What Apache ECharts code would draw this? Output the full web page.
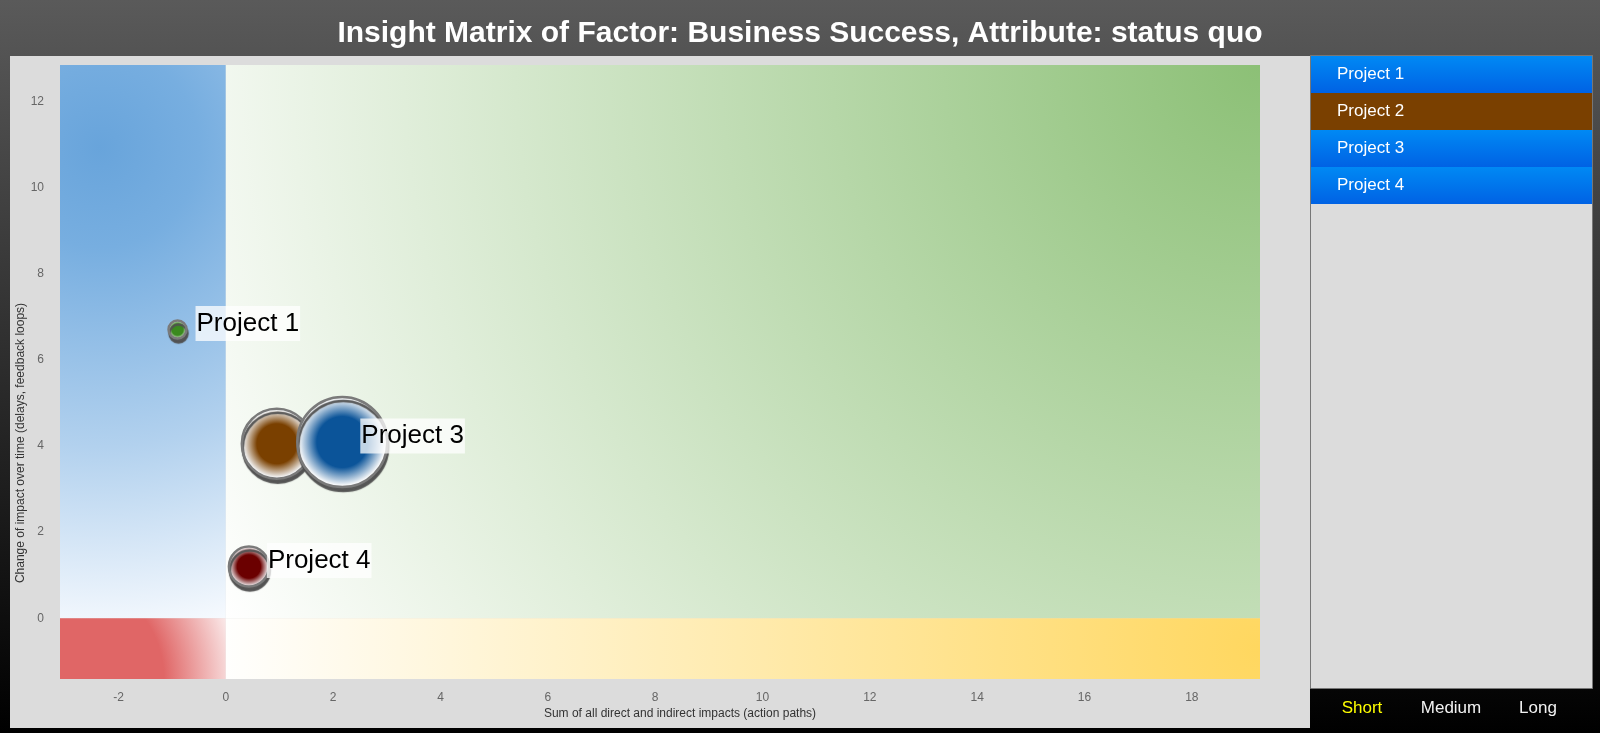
<!DOCTYPE html>
<html>
<head>
<meta charset="utf-8">
<script src="https://cdn.jsdelivr.net/npm/echarts@6/dist/echarts.min.js"></script>
<style>
  html, body { margin: 0; padding: 0; width: 1600px; height: 733px; overflow: hidden;
    background: linear-gradient(to bottom, #5a5a5a 0%, #3a3a3a 35%, #000000 100%); }
  #chart { width: 1600px; height: 733px; }
</style>
</head>
<body>
<div id="chart"></div>
<script>
// ---- data ----
const titleText = 'Insight Matrix of Factor: Business Success, Attribute: status quo';
const projects = ['Project 1', 'Project 2', 'Project 3', 'Project 4'];
const sumImpacts = [-0.90, 0.95, 2.17, 0.43];       // x: sum of all direct and indirect impacts
const changeOverTime = [6.70, 4.05, 4.09, 1.20];    // y: change of impact over time
const bubbleSize = [18, 70, 90, 40];                // bubble diameter
const projectColors = ['#3b8a1e', '#7a4000', '#0b5499', '#6b0000'];
const showLabel = [true, false, true, true];
const selectedProject = 'Project 2';
const horizons = ['Short', 'Medium', 'Long'];
const activeHorizon = 'Short';
const xName = 'Sum of all direct and indirect impacts (action paths)';
const yName = 'Change of impact over time (delays, feedback loops)';
const xRange = [-3.09, 19.27];
const yRange = [-1.41, 12.84];

const FONT = 'Liberation Sans, Arial, sans-serif';

const chart = echarts.init(document.getElementById('chart'), null, { renderer: 'canvas' });

const bubbleData = projects.map((name, i) => ({
  name: name,
  value: [sumImpacts[i], changeOverTime[i], bubbleSize[i]],
  itemStyle: {
    color: {
      type: 'radial', x: 0.5, y: 0.5, r: 0.5,
      colorStops: [
        { offset: 0, color: projectColors[i] },
        { offset: 0.55, color: projectColors[i] },
        { offset: 0.93, color: '#f4f6f8' },
        { offset: 1, color: '#f4f6f8' }
      ]
    }
  },
  label: { show: showLabel[i] }
}));

// legend panel graphics
const legendItems = [];
projects.forEach((name, i) => {
  const sel = name === selectedProject;
  legendItems.push({
    type: 'rect', z: 5,
    shape: { x: 1311, y: 56 + i * 37, width: 281, height: 37 },
    style: {
      fill: sel ? projectColors[i] : {
        type: 'linear', x: 0, y: 0, x2: 0, y2: 1,
        colorStops: [{ offset: 0, color: '#0089f4' }, { offset: 1, color: '#0062e4' }]
      }
    }
  });
  legendItems.push({
    type: 'text', z: 6,
    style: { x: 1337, y: 56 + i * 37 + 18.5, text: name, fill: '#ffffff',
      font: '17px ' + FONT, textVerticalAlign: 'middle', textAlign: 'left' }
  });
});
const horizonX = [1362, 1451, 1538];
horizons.forEach((h, i) => {
  legendItems.push({
    type: 'text', z: 6,
    style: { x: horizonX[i], y: 708, text: h, fill: h === activeHorizon ? '#ffff00' : '#f2f2f2',
      font: '17px ' + FONT, textAlign: 'center', textVerticalAlign: 'middle' }
  });
});

const option = {
  backgroundColor: 'transparent',
  animation: false,
  title: {
    text: titleText, left: 'center', top: 14,
    textStyle: { color: '#ffffff', fontSize: 30, fontWeight: 'bold', fontFamily: FONT }
  },
  graphic: [
    { type: 'rect', z: -10, shape: { x: 10, y: 56, width: 1300, height: 672 }, style: { fill: '#dcdcdc' } },
    { type: 'rect', z: -10, shape: { x: 1310.5, y: 55.5, width: 282, height: 633 },
      style: { fill: '#dcdcdc', stroke: '#777777', lineWidth: 1 } },
    { type: 'text', z: 5, x: 21, y: 443, rotation: Math.PI / 2,
      style: { x: 0, y: 0, text: yName, fill: '#333333', font: '12px ' + FONT,
        textAlign: 'center', textVerticalAlign: 'middle' } },
    { type: 'text', z: 5, style: { x: 680, y: 714, text: xName, fill: '#333333', font: '12px ' + FONT,
        textAlign: 'center', textVerticalAlign: 'middle' } }
  ].concat(legendItems),
  grid: { left: 60, right: 340, top: 65, bottom: 54, containLabel: false },
  xAxis: {
    type: 'value', min: xRange[0], max: xRange[1], splitNumber: 10,
    axisLine: { show: false }, axisTick: { show: false }, splitLine: { show: false },
    axisLabel: { color: '#666666', fontSize: 12, fontFamily: FONT, margin: 13,
      showMinLabel: false, showMaxLabel: false }
  },
  yAxis: {
    type: 'value', min: yRange[0], max: yRange[1], splitNumber: 7,
    axisLine: { show: false }, axisTick: { show: false }, splitLine: { show: false },
    axisLabel: { color: '#666666', fontSize: 12, fontFamily: FONT, margin: 16,
      showMinLabel: false, showMaxLabel: false }
  },
  series: [
    {
      type: 'scatter', silent: true, data: [], z: 1,
      markArea: {
        silent: true,
        data: [
          [{ coord: [xRange[0], 0] }, { coord: [0, yRange[1]],
            itemStyle: { color: { type: 'radial', x: 0.24, y: 0.15, r: 3,
              colorStops: [{ offset: 0, color: '#68a4db' }, { offset: 0.2, color: '#77aee0' },
                           { offset: 0.6, color: '#b2d1ee' }, { offset: 1, color: '#fafcff' }] } } }],
          [{ coord: [0, 0] }, { coord: [xRange[1], yRange[1]],
            itemStyle: { color: { type: 'radial', x: 1, y: 0, r: 2.12,
              colorStops: [{ offset: 0, color: '#8cc076' }, { offset: 1, color: '#ffffff' }] } } }],
          [{ coord: [xRange[0], yRange[0]] }, { coord: [0, 0],
            itemStyle: { color: { type: 'radial', x: 0, y: 1, r: 2.95,
              colorStops: [{ offset: 0, color: '#e06666' }, { offset: 0.58, color: '#e06666' },
                           { offset: 1, color: '#fbeeee' }] } } }],
          [{ coord: [0, yRange[0]] }, { coord: [xRange[1], 0],
            itemStyle: { color: { type: 'radial', x: 1, y: 0.5, r: 17.2,
              colorStops: [{ offset: 0, color: '#ffd75f' }, { offset: 1, color: '#ffffff' }] } } }]
        ],
        itemStyle: { opacity: 1, borderWidth: 0 },
        label: { show: false }
      }
    },
    {
      type: 'scatter', z: 3,
      data: bubbleData,
      symbolSize: v => v[2],
      itemStyle: {
        opacity: 1,
        borderColor: '#7a7a7a', borderWidth: 2.5,
        shadowColor: 'rgba(80,80,80,0.95)', shadowBlur: 1, shadowOffsetX: 1, shadowOffsetY: 4
      },
      label: {
        show: true,
        formatter: p => p.name,
        position: ['50%', '50%'], align: 'left', verticalAlign: 'middle', offset: [18, -6],
        fontSize: 26, fontFamily: FONT, color: '#000000', opacity: 1,
        backgroundColor: 'rgba(255,255,255,0.75)', padding: [3, 1, 3, 1], lineHeight: 29
      },
      emphasis: { disabled: true }
    }
  ]
};
chart.setOption(option);
</script>
</body>
</html>
